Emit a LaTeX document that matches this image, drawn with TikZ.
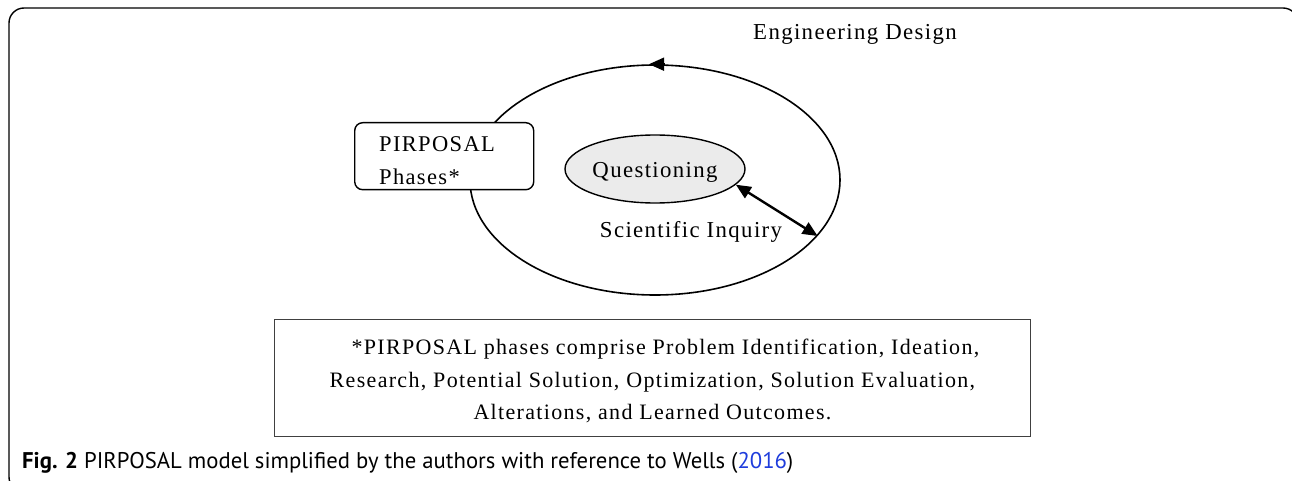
\documentclass[tikz,border=0pt]{standalone}
\usepackage{fontspec}
\setmainfont{Liberation Serif}[LetterSpace=6]
\newfontfamily\capfont{PT Sans}
\usetikzlibrary{arrows.meta,shapes.geometric}
\definecolor{qgray}{RGB}{235,235,235}
\definecolor{linkblue}{RGB}{30,60,220}
\tikzset{
  frame/.style={line width=1.4pt, rounded corners=15pt},
  ring/.style={draw, ellipse, line width=1.6pt, inner sep=0pt},
  phasebox/.style={draw, fill=white, line width=1.4pt, rounded corners=8pt, minimum width=179pt, minimum height=67pt, anchor=north west, inner xsep=0pt},
  lbl/.style={font=\fontsize{22.8}{26}\selectfont, inner sep=0pt},
  notebox/.style={draw=black!75, line width=0.9pt, minimum width=756pt, minimum height=117pt, anchor=north west, inner sep=0pt},
  mytip/.tip={Triangle[length=15pt,width=13pt]}
}
\begin{document}
\begin{tikzpicture}[x=1pt,y=-1pt]
\useasboundingbox (0,0) rectangle (1292,481);
\begin{scope}
\clip (0,0) rectangle (1292,481);
\draw[frame] (9,8) rectangle (1298,492);
\end{scope}
% outer ellipse (Engineering Design)
\node[ring, minimum width=370pt, minimum height=230pt] (outer) at (655,180) {};
\coordinate (topa) at ([xshift=10pt]outer.north);
\coordinate (topb) at ([xshift=-6pt]outer.north);
\draw[line width=1.6pt, -{mytip}] (topa) -- (topb);
% PIRPOSAL box
\node[phasebox] (phase) at (354,122) {};
\node[lbl, anchor=west, align=left, font=\fontsize{22.5}{33}\selectfont] (phasetxt) at ([xshift=25pt,yshift=-4pt]phase.west) {PIRPOSAL\\Phases*};
% Questioning
\node[ring, fill=qgray, line width=1.4pt, minimum width=180pt, minimum height=68pt] (q) at (655,169) {};
\node[lbl] (qtxt) at ([yshift=-3pt]q.center) {Questioning};
% double arrow
\draw[line width=2.4pt, {mytip}-{mytip}] (q.-11) -- (outer.-19);
% labels
\node[lbl] (sci) at (691,232) {Scientific Inquiry};
\node[lbl] (eng) at (855,34) {Engineering Design};
% note box
\node[notebox] (note) at (274,319) {};
\node[align=center, inner sep=0pt, font=\fontsize{22}{32.5}\selectfont] (notetxt) at ([yshift=-3pt]note.center)
 {\hspace{26pt}*PIRPOSAL phases comprise Problem Identification, Ideation,\\
  Research, Potential Solution, Optimization, Solution Evaluation,\\
  Alterations, and Learned Outcomes.};
% caption
\node[anchor=west, inner sep=0pt, font=\capfont\fontsize{22.7}{24}\selectfont] (cap) at (22,463)
 {\textbf{Fig. 2} PIRPOSAL model simplified by the authors with reference to Wells (\textcolor{linkblue}{2016})};
\end{tikzpicture}
\end{document}
